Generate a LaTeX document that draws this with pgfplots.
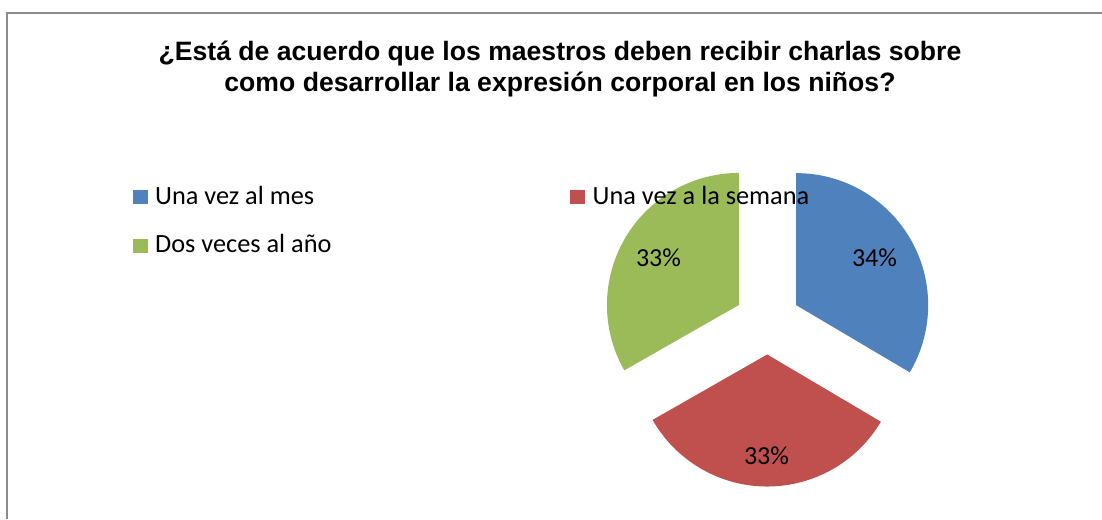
\documentclass[border=0pt]{standalone}
\usepackage{pgfplots}
\usepackage{pgfplotstable}
\pgfplotsset{compat=1.18}
\usepackage{fontspec}
\setmainfont{Carlito}
\newfontfamily\titlefont{Liberation Sans}
\definecolor{pieblue}{HTML}{4F81BD}
\definecolor{piered}{HTML}{C0504D}
\definecolor{piegreen}{HTML}{9BBB59}
\definecolor{framegray}{HTML}{8C8C8C}

\pgfplotstableread{
name value
{Una vez al mes} 33.5
{Una vez a la semana} 33.25
{Dos veces al año} 33.25
}\piedata

\begin{document}
\begin{tikzpicture}
\pgfplotstablegetelem{0}{value}\of\piedata \let\va\pgfplotsretval
\pgfplotstablegetelem{1}{value}\of\piedata \let\vb\pgfplotsretval
\pgfplotstablegetelem{2}{value}\of\piedata \let\vc\pgfplotsretval
\pgfplotstablegetelem{0}{name}\of\piedata \let\na\pgfplotsretval
\pgfplotstablegetelem{1}{name}\of\piedata \let\nb\pgfplotsretval
\pgfplotstablegetelem{2}{name}\of\piedata \let\nc\pgfplotsretval
\pgfmathsetmacro\tot{\va+\vb+\vc}
\pgfmathsetmacro\aE{90-360*\va/\tot}
\pgfmathsetmacro\bE{\aE-360*\vb/\tot}
\pgfmathsetmacro\cE{\bE-360*\vc/\tot}
\pgfmathsetmacro\aM{(90+\aE)/2}
\pgfmathsetmacro\bM{(\aE+\bE)/2}
\pgfmathsetmacro\cM{(\bE+\cE)/2}
\def\cx{767.5}\def\cy{197.5}\def\rr{132}\def\dd{33}
\pgfmathsetmacro\aX{\cx+\dd*cos(\aM)}\pgfmathsetmacro\aY{\cy+\dd*sin(\aM)}
\pgfmathsetmacro\bX{\cx+\dd*cos(\bM)}\pgfmathsetmacro\bY{\cy+\dd*sin(\bM)}
\pgfmathsetmacro\cX{\cx+\dd*cos(\cM)}\pgfmathsetmacro\cY{\cy+\dd*sin(\cM)}
\pgfmathtruncatemacro\pa{round(100*\va/\tot)}
\pgfmathtruncatemacro\pb{round(100*\vb/\tot)}
\pgfmathtruncatemacro\pc{round(100*\vc/\tot)}
\useasboundingbox (0,0) rectangle (1102pt,519pt);
\begin{axis}[
  at={(0,0)}, anchor=origin,
  x=1pt, y=1pt, scale only axis,
  xmin=0, xmax=1102, ymin=0, ymax=519,
  hide axis, clip=false,
]
% frame
\draw[framegray, line width=2pt] (axis cs:6.5,0) -- (axis cs:6.5,506) -- (axis cs:1102,506);
% title
\node[font=\titlefont\bfseries\fontsize{26.6}{31}\selectfont, align=center, anchor=base, inner sep=0pt]
  at (axis cs:560,427.5) {¿Está de acuerdo que los maestros deben recibir charlas sobre\\como desarrollar la expresión corporal en los niños?};
% pie sectors
\fill[pieblue] (axis cs:\aX,\aY) -- ++(90:\rr pt) arc[start angle=90, end angle=\aE, radius=\rr pt] -- cycle;
\fill[piered] (axis cs:\bX,\bY) -- ++(\aE:\rr pt) arc[start angle=\aE, end angle=\bE, radius=\rr pt] -- cycle;
\fill[piegreen] (axis cs:\cX,\cY) -- ++(\bE:\rr pt) arc[start angle=\bE, end angle=\cE, radius=\rr pt] -- cycle;
% data labels
\node[font=\fontsize{26}{30}\selectfont, anchor=base] at (axis cs:874.5,252) {\pa\%};
\node[font=\fontsize{26}{30}\selectfont, anchor=base] at (axis cs:766.5,54) {\pb\%};
\node[font=\fontsize{26}{30}\selectfont, anchor=base] at (axis cs:658.5,252) {\pc\%};
% legend
\fill[pieblue] (axis cs:133,314.7) rectangle (axis cs:147.5,328.5);
\node[font=\fontsize{26.3}{30}\selectfont, anchor=base west, inner sep=0pt] at (axis cs:155,314.7) {\na};
\fill[piered] (axis cs:570,314.7) rectangle (axis cs:584.5,328.5);
\node[font=\fontsize{26.3}{30}\selectfont, anchor=base west, inner sep=0pt] at (axis cs:592.5,314.7) {\nb};
\fill[piegreen] (axis cs:133,266) rectangle (axis cs:147.5,279.8);
\node[font=\fontsize{26.3}{30}\selectfont, anchor=base west, inner sep=0pt] at (axis cs:155,266) {\nc};
\end{axis}
\end{tikzpicture}
\end{document}
